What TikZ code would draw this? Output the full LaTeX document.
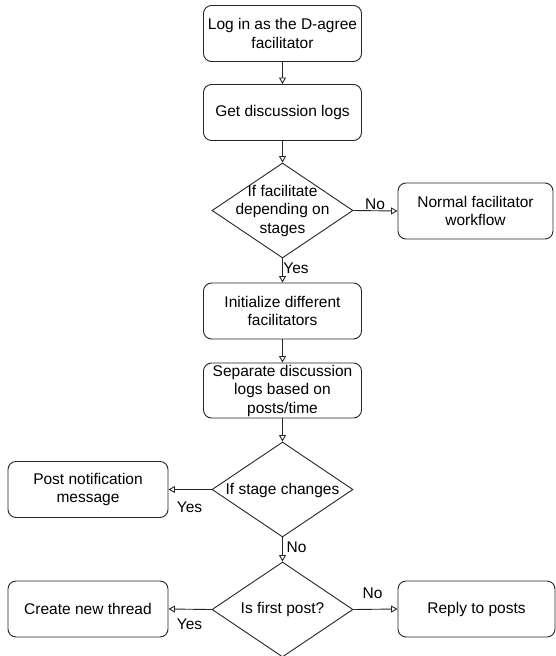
\documentclass[tikz,border=0pt]{standalone}
\usepackage{fontspec}
\setmainfont{Liberation Sans}
\usetikzlibrary{shapes.geometric,arrows.meta}
\begin{document}
\begin{tikzpicture}[x=1pt,y=-1pt,
  every node/.style={font=\fontsize{15.5}{18.5}\selectfont, text=black},
  procbox/.style={draw=black!85, line width=0.9pt, rounded corners=8pt,
    minimum width=158pt, minimum height=56pt, inner sep=0pt, align=center},
  decision/.style={draw=black!85, line width=0.9pt, shape=diamond, inner sep=0pt,
    minimum width=141pt, minimum height=95pt},
  dtext/.style={align=center, inner sep=0pt},
  flow/.style={draw=black!85, line width=0.9pt, -{Triangle[open,length=6.5pt,width=7pt]}},
  lbl/.style={inner sep=0pt}]
\useasboundingbox (0,0) rectangle (555,656);

% main column
\node[procbox] (login) at (282.5,33.5) {Log in as the D-agree\\facilitator};
\node[procbox] (logs) at (282.5,112.5) {Get discussion logs};
\node[decision] (d1) at (282.5,210.5) {};
\node[dtext] (d1t) at (282.5,210.5) {If facilitate\\depending on\\stages};
\node[procbox, minimum width=155pt] (normal) at (475.5,211) {Normal facilitator\\workflow};
\node[procbox] (init) at (282.5,311) {Initialize different\\facilitators};
\node[procbox, minimum height=55pt] (sep) at (282.5,390.5) {Separate discussion\\logs based on\\posts/time};
\node[decision] (d2) at (282.5,489.5) {};
\node[dtext] (d2t) at (282.5,490) {If stage changes};
\node[procbox, minimum width=160pt] (notify) at (88,489.5) {Post notification\\message};
\node[decision] (d3) at (282.5,609.5) {};
\node[dtext] (d3t) at (282.5,609.5) {Is first post?};
\node[procbox, minimum width=160pt] (thread) at (88,609) {Create new thread};
\node[procbox, minimum width=157pt] (reply) at (476.5,609) {Reply to posts};

% connectors
\draw[flow] (login) -- (logs);
\draw[flow] (logs) -- (d1.north);
\draw[flow] (d1.east) -- (normal.west);
\draw[flow] (d1.south) -- (init);
\draw[flow] (init) -- (sep);
\draw[flow] (sep) -- (d2.north);
\draw[flow] (d2.west) -- (notify.east);
\draw[flow] (d2.south) -- (d3.north);
\draw[flow] (d3.west) -- (thread.east);
\draw[flow] (d3.east) -- (reply.west);

% branch labels
\node[lbl] (l1) at (375,204) {No};
\node[lbl] (l2) at (296,268) {Yes};
\node[lbl] (l3) at (189.5,507.5) {Yes};
\node[lbl] (l4) at (296.5,547) {No};
\node[lbl] (l5) at (372.5,593) {No};
\node[lbl] (l6) at (189.5,624.5) {Yes};
\end{tikzpicture}
\end{document}
